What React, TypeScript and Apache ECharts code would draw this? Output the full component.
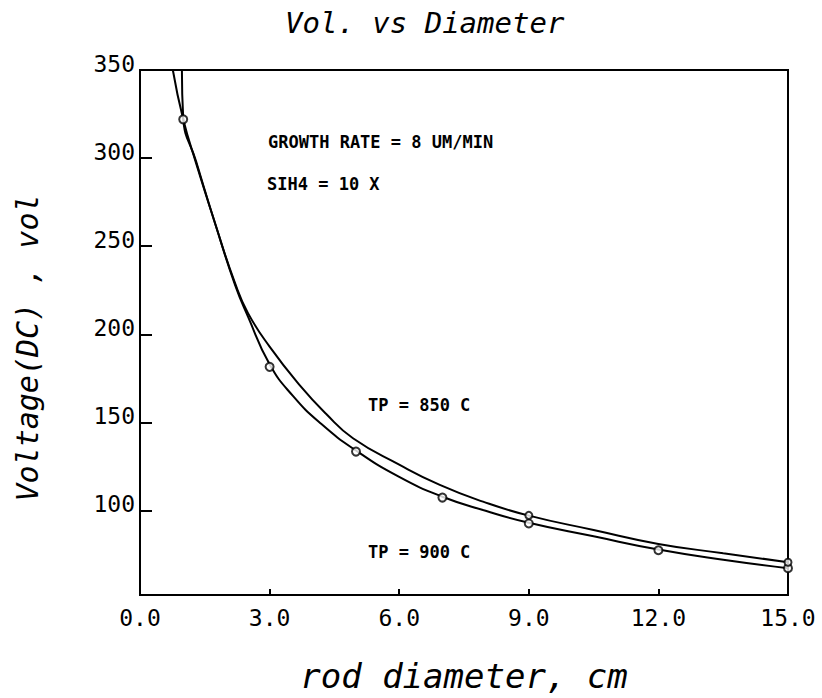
import React, { useEffect, useRef } from "react";
import * as echarts from "echarts";

const TITLE = "Vol. vs Diameter";
const X_NAME = "rod diameter, cm";
const Y_NAME = "Voltage(DC) , vol";
const NOTE_RATE = "GROWTH RATE = 8 UM/MIN";
const NOTE_SIH4 = "SIH4 = 10 X";
const LABEL_850 = "TP = 850 C";
const LABEL_900 = "TP = 900 C";

const xTickValues = [0, 3, 6, 9, 12, 15];
const yTickValues = [100, 150, 200, 250, 300, 350];

// Points
const curve850X = [0.97, 1.0, 1.3, 1.75, 2.2, 2.5, 3.0, 3.7, 4.3, 4.93, 6.0, 6.94, 7.94, 8.98, 10.5, 12, 13.5, 15];
const curve850Y = [350, 323, 298, 262, 229, 212, 193, 171, 155, 141, 126, 114.5, 105, 97.2, 88.9, 81, 75.7, 70.6];
const curve900X = [0.76, 1.0, 1.3, 1.75, 2.2, 2.5, 3.0, 3.54, 4.2, 5.0, 6.0, 7.0, 8.0, 9.0, 10.5, 12, 13.5, 15];
const curve900Y = [350, 322, 297, 262, 228, 210, 183, 165, 149, 134, 119, 107.8, 99.8, 93, 85.3, 77.8, 72, 67.2];

// Measured points (markers)
const markers900X = [1, 3, 5, 7, 9, 12, 15];
const markers900Y = [322, 181.5, 133.4, 107.3, 92.6, 77.4, 67.2];
const markers850X = [9, 15];
const markers850Y = [97.2, 70.6];

const MONO = "'DejaVu Sans Mono', monospace";

const zip = (xs: number[], ys: number[]) => xs.map((x, i) => [x, ys[i]]);

export default function App() {
  const ref = useRef<HTMLDivElement>(null);
  useEffect(() => {
    if (!ref.current) return;
    const chart = echarts.init(ref.current, undefined, { renderer: "svg" });
    const noteStyle = {
      fill: "#000",
      font: `bold 17px ${MONO}`,
      textVerticalAlign: "middle",
    } as any;
    chart.setOption({
      animation: false,
      backgroundColor: "#fff",
      title: {
        text: TITLE,
        left: 285,
        top: 8,
        padding: 0,
        textStyle: {
          fontFamily: MONO,
          fontSize: 29,
          fontStyle: "italic",
          fontWeight: "normal",
          color: "#000",
        },
      },
      grid: {
        left: 140,
        right: 34,
        top: 70,
        bottom: 101,
        show: true,
        borderColor: "#000",
        borderWidth: 2,
        backgroundColor: "transparent",
      },
      xAxis: {
        type: "value",
        min: 0,
        max: 15,
        name: X_NAME,
        nameLocation: "middle",
        nameGap: 64,
        nameTextStyle: {
          fontFamily: MONO,
          fontSize: 34,
          fontStyle: "italic",
          color: "#000",
        },
        axisLine: { show: true, lineStyle: { color: "#000", width: 2 } },
        axisTick: {
          show: true,
          inside: true,
          length: 6,
          lineStyle: { color: "#000", width: 2 },
          customValues: xTickValues,
        },
        axisLabel: {
          fontFamily: MONO,
          fontSize: 23,
          color: "#000",
          margin: 11,
          customValues: xTickValues,
          formatter: (v: number) => v.toFixed(1),
        },
        splitLine: { show: false },
      },
      yAxis: {
        type: "value",
        min: 52,
        max: 350,
        axisLine: { show: true, lineStyle: { color: "#000", width: 2 } },
        axisTick: {
          show: true,
          inside: true,
          length: 12,
          lineStyle: { color: "#000", width: 2 },
          customValues: yTickValues,
        },
        axisLabel: {
          fontFamily: MONO,
          fontSize: 23,
          color: "#000",
          margin: 5,
          verticalAlign: "bottom",
          lineHeight: 12,
          customValues: yTickValues,
          formatter: (v: number) => String(v),
        },
        splitLine: { show: false },
      },
      graphic: [
        {
          type: "text",
          x: 27,
          y: 348,
          rotation: Math.PI / 2,
          style: {
            text: Y_NAME,
            fill: "#000",
            font: `italic 30px ${MONO}`,
            textAlign: "center",
            textVerticalAlign: "middle",
          },
        },
        { type: "text", x: 268, y: 142, style: { ...noteStyle, text: NOTE_RATE } },
        { type: "text", x: 267, y: 184, style: { ...noteStyle, text: NOTE_SIH4 } },
        { type: "text", x: 368, y: 405, style: { ...noteStyle, text: LABEL_850 } },
        { type: "text", x: 368, y: 552, style: { ...noteStyle, text: LABEL_900 } },
      ],
      series: [
        {
          name: "TP = 850 C",
          type: "line",
          data: zip(curve850X, curve850Y),
          smooth: 0.5,
          showSymbol: false,
          clip: true,
          lineStyle: { color: "#000", width: 2 },
        },
        {
          name: "TP = 900 C",
          type: "line",
          data: zip(curve900X, curve900Y),
          smooth: 0.5,
          showSymbol: false,
          clip: true,
          lineStyle: { color: "#000", width: 2 },
        },
        {
          name: "900 C data",
          type: "scatter",
          data: zip(markers900X, markers900Y),
          symbol: "circle",
          symbolSize: 8,
          itemStyle: { color: "#fff", borderColor: "#000", borderWidth: 2 },
          z: 5,
        },
        {
          name: "850 C data",
          type: "scatter",
          data: zip(markers850X, markers850Y),
          symbol: "circle",
          symbolSize: 7,
          itemStyle: { color: "#fff", borderColor: "#000", borderWidth: 2 },
          z: 5,
        },
      ],
    });
    return () => chart.dispose();
  }, []);
  return (
    <div
      ref={ref}
      style={{ position: "absolute", left: 0, top: 0, width: 822, height: 698, background: "#fff" }}
    />
  );
}
